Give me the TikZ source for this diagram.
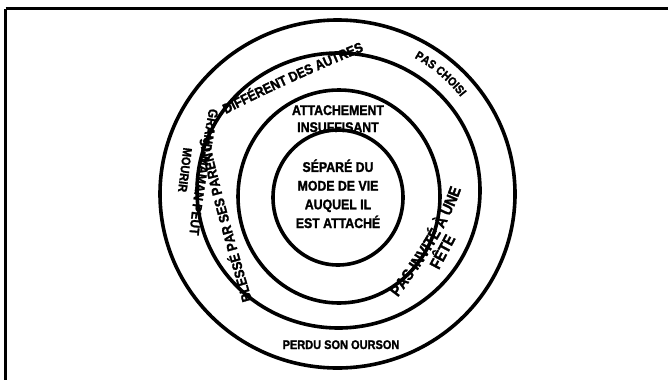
\documentclass[tikz,border=0pt]{standalone}
\usepackage{fontspec}
\newfontfamily\lbl{Liberation Sans Bold}[FakeStretch=0.88, FakeBold=1.6]
\usetikzlibrary{decorations.text}
\newcommand{\fA}{\lbl\fontsize{14}{18.7}\selectfont}
\newcommand{\fB}{\lbl\fontsize{12.5}{15}\selectfont}
\newcommand{\fC}{\lbl\fontsize{12}{14}\selectfont}
\newcommand{\fD}{\lbl\fontsize{16}{18}\selectfont}
\newcommand{\fE}{\lbl\fontsize{13.5}{15}\selectfont}
\begin{document}
\begin{tikzpicture}[x=1pt,y=-1pt,
  ring/.style={line width=3.6pt},
  frameline/.style={line width=3pt},
  lab/.style={align=center, inner sep=0pt},
  curvy/.style={decorate, decoration={text along path, text align=center, text={#1}}},
]
\useasboundingbox (0,0) rectangle (668,380);
\fill[white] (0,0) rectangle (668,380);
% frame
\coordinate (ftl) at (5.5,8.5);
\coordinate (ftr) at (668,8.5);
\coordinate (fbl) at (5.5,380);
\draw[frameline] (ftl) -- (ftr);
\draw[frameline] (ftl) -- (fbl);
% rings
\draw[ring] (337.5,194) ellipse [x radius=177.5, y radius=174];
\draw[ring] (338.5,190.5) ellipse [x radius=141.5, y radius=137.5];
\draw[ring] (339,196.5) ellipse [x radius=101, y radius=106.5];
\draw[ring] (338,197.5) ellipse [x radius=65, y radius=67.5];
% straight labels
\node[lab, font=\fA, anchor=base] (centre) at (338,228) {SÉPARÉ DU\\MODE DE VIE\\AUQUEL IL\\EST ATTACHÉ};
\node[lab, font=\fA, anchor=base] (attach) at (338,132) {ATTACHEMENT\\[-1.7pt]INSUFFISANT};
\node[lab, font=\fB, anchor=base] (perdu) at (341,349) {PERDU SON OURSON};
\node[lab, font=\fB, rotate=-97] (mourir) at (185,170) {MOURIR};
\node[lab, font=\fD, rotate=62] (fete) at (441,251) {FÊTE};
% curved labels
\path[curvy={|\fA|DIFFÉRENT DES AUTRES}] (224,115) .. controls (268,92) and (318,70) .. (366,50);
\path[curvy={|\fC|PAS CHOISI}] (338,195) ++(-66:157) arc[start angle=-66, end angle=-33.5, radius=157];
\path[curvy={|\fE|GRAND-MAMAN PEUT}] (210,103) .. controls (204,140) and (193,190) .. (189,240);
\path[curvy={|\fA|BLESSÉ PAR SES PARENTS}] (254,307) .. controls (236,245) and (220,190) .. (207,130);
\path[curvy={|\fD|PAS INVITÉ À UNE}] (392,305) .. controls (415,275) and (450,228) .. (464,180);
\end{tikzpicture}
\end{document}
